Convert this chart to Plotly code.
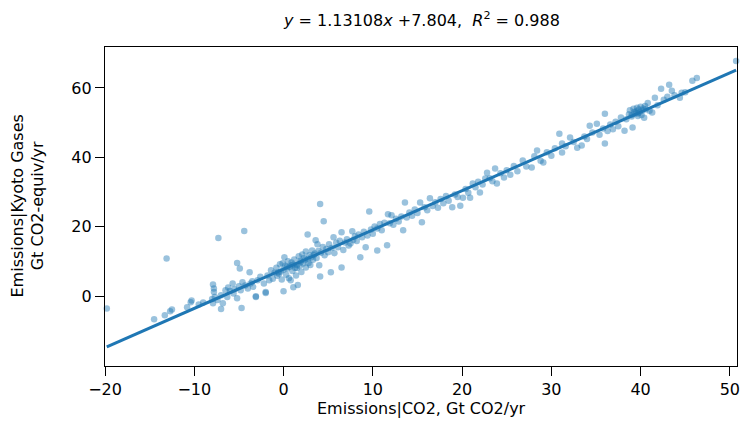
import plotly.graph_objects as go

# Emissions|CO2 (Gt CO2/yr) and Emissions|Kyoto Gases (Gt CO2-equiv/yr)
co2 = [
    -19.8, -14.5, -13.3, -12.7, -12.5, -13.1, -10.8, -10.4, -10.3, -9.5, -9.0,
    -7.9, -7.8, -7.8, -7.7, -7.4, -8.0, -7.9, -7.3, -7.0, -6.8, -7.0, -6.5, -6.2, -6.3,
    -5.7, -5.6, -5.2, -5.2, -4.9, -4.8, -4.6, -4.7, -4.4, -4.0, -3.8, -3.7, -3.4, -3.1,
    -3.1, -2.9, -2.6, -2.2, -2.0, -2.0, -1.8, -1.6, -6.0, -5.5, -5.0, -4.3, -3.5,
    -1.4, -1.2, -1.0, -0.8, -0.7, -0.5, -0.4, -0.3, -0.2, -0.1, 0.0, 0.0, 0.1, 0.2,
    0.3, 0.4, 0.5, 0.6, 0.7, 0.8, 0.9, 1.0, 1.1, 1.2, 1.3, 1.4, 1.5, 1.6, 1.7, 1.8,
    1.9, 2.0, 2.1, 2.2, 2.3, 2.5, 2.5, 2.7, 2.7, 2.9, 3.0, 3.2, 3.3, 3.5, 3.6, 3.7,
    3.8, 3.9, 4.0, 4.1, 4.1, 4.2, 4.4, 4.5, 4.6, 4.8, 5.0, 5.1, 5.3, 5.4, 5.6, 5.7,
    5.9, 6.1, 6.3, 6.5, 6.5, 6.7, 6.9, 7.1, 7.3, 7.5, 7.7, 7.8, 8.0, 8.2, 8.4, 8.6,
    8.8, 9.0, 9.2, 9.4, 9.6, 9.8, 10.0, 10.2, 10.5, 10.5, 10.8, 11.0, 11.3, 11.6,
    11.7, 11.9, 12.1, 12.3, 12.6, 12.9, 13.2, 13.4, 13.6, 13.8, 14.1, 14.4, 14.7,
    15.0, 15.3, 15.5, 15.8, 16.1, 16.4, 16.7, 17.0, 17.3, 17.6, 17.9, 18.2, 18.5,
    18.9, 19.2, 19.5, 19.8, 20.1, 20.4, 20.7, 20.9, 21.2, 21.5, 21.8, 22.0, 22.3,
    22.6, 22.8, 23.1, 23.4, 23.7, 23.9, 24.3, 24.7, 25.0, 25.4, 25.8, 26.2, 26.8,
    27.2, 27.8, 28.1, 28.4, 28.8, 29.1, 29.5, 30.0, 30.4, 30.9, 31.2, 31.2, 31.6,
    32.1, 32.5, 32.9, 33.4, 33.7, 34.0, 34.3, 34.6, 35.1, 35.4, 35.8, 36.0, 36.0,
    36.3, 36.6, 36.9, 37.2, 37.5, 37.8, 38.2, 38.4, 38.7, 38.8, 39.0, 39.1, 39.2,
    39.4, 39.5, 39.6, 39.7, 39.8, 39.9, 40.0, 40.1, 40.2, 40.4, 40.5, 40.8, 41.0,
    41.3, 41.6, 41.9, 42.3, 42.6, 43.0, 43.2, 43.5, 43.8, 44.4, 44.6, 45.0, 45.8,
    46.3, 50.7,
    0.4, 1.1, 1.9, 2.4, 3.1, 0.9, 2.8, -0.6, 1.5, 3.4, 39.3, 39.7, 40.3, 39.0, 40.6,
]
kyoto = [
    -3.5, -6.6, -5.5, -4.3, -3.8, 10.9, -3.2, -1.7, -1.2, -2.4, -1.8,
    3.4, 2.2, 1.2, -0.2, -1.1, -0.8, -2.0, 16.8, -3.7, -2.0, 0.3, 1.7, 2.5, -0.2,
    3.7, 0.8, -0.6, 9.6, 8.0, 1.7, 4.0, -3.4, 18.8, 2.2, 6.9, 3.7, 2.7, -0.2,
    0.0, 4.6, 5.6, 3.7, 1.2, 0.9, 6.0, 4.6, 1.5, 2.0, 2.9, 3.1, 4.3,
    7.5, 5.0, 6.8, 8.2, 5.9, 6.5, 9.2, 7.1, 4.8, 9.5, 1.4, 7.6, 11.2, 8.8,
    6.2, 7.9, 10.1, 5.2, 8.5, 4.6, 9.7, 7.3, 2.6, 10.6, 8.1, 6.0, 9.0, 3.2, 11.5, 8.7,
    10.2, 7.0, 12.0, 9.4, 11.0, 12.9, 8.3, 17.8, 10.7, 11.8, 9.0, 13.2, 10.5, 12.3, 16.1, 11.0,
    15.0, 13.0, 8.9, 26.6, 5.7, 12.5, 14.2, 21.6, 11.8, 13.6, 12.7, 15.0, 6.9, 13.9, 17.0, 12.4,
    15.4, 14.1, 16.0, 18.4, 8.3, 13.3, 15.5, 16.4, 14.6, 15.2, 18.7, 16.2, 17.3, 15.9, 17.8, 11.2,
    17.0, 18.6, 14.1, 17.5, 24.4, 19.2, 18.0, 20.1, 13.2, 19.5, 20.8, 19.0, 21.2, 14.7,
    23.6, 21.0, 23.3, 20.6, 22.3, 21.5, 23.0, 19.0, 27.0, 22.7, 24.1, 23.2, 25.0,
    24.0, 27.0, 21.3, 25.6, 24.8, 28.2, 26.0, 27.1, 25.5, 28.0, 26.8, 28.9, 27.5,
    25.6, 29.3, 28.6, 26.1, 28.4, 30.9, 29.8, 28.4, 32.5, 31.4, 33.0, 29.9, 32.2,
    33.9, 35.6, 34.0, 33.1, 36.8, 32.5, 35.4, 34.2, 36.3, 35.0, 37.5, 36.0, 39.1,
    37.4, 37.1, 40.3, 42.0, 39.0, 38.5, 41.5, 40.5, 42.6, 46.8, 44.0, 41.4, 43.2,
    45.7, 44.4, 42.8, 43.4, 46.0, 45.3, 49.1, 47.2, 49.7, 46.5, 48.3, 44.0, 52.6,
    47.6, 49.5, 48.1, 50.3, 49.0, 51.5, 47.7, 51.0, 52.4, 53.6, 51.8, 48.6, 54.0,
    52.6, 53.3, 54.3, 51.9, 53.8, 52.9, 54.6, 52.2, 53.5, 51.4, 54.8, 55.7, 53.4,
    52.9, 57.2, 55.0, 59.8, 56.6, 57.5, 60.9, 59.2, 57.9, 57.2, 58.6, 58.8, 62.1,
    62.9, 67.8,
    8.4, 9.1, 9.8, 10.4, 11.2, 8.9, 9.6, 6.9, 8.1, 11.9, 53.1, 52.7, 54.1, 52.2, 53.9,
]

slope = 1.13108
intercept = 7.804
r_squared = 0.988
x_ticks = [-20, -10, 0, 10, 20, 30, 40, 50]
y_ticks = [0, 20, 40, 60]

blue = "#1f77b4"
font = "DejaVu Sans"

line_x = [min(co2), max(co2)]
line_y = [slope * v + intercept for v in line_x]

fig = go.Figure()
fig.add_trace(go.Scatter(
    x=co2, y=kyoto, mode="markers",
    marker=dict(color=blue, size=6.5, opacity=0.45, line=dict(width=0)),
    showlegend=False, hoverinfo="skip", cliponaxis=False,
))
fig.add_trace(go.Scatter(
    x=line_x, y=line_y, mode="lines",
    line=dict(color=blue, width=3),
    showlegend=False, hoverinfo="skip",
))

title = (f"<i>y</i> = {slope}<i>x</i> +{intercept},\u00a0\u00a0"
         f"<i>R</i><sup>2</sup> = {r_squared}")

axis_style = dict(ticks="outside", ticklen=9, tickcolor="black", tickwidth=1.2,
                  showgrid=False, zeroline=False, showline=True, linecolor="black",
                  linewidth=1.2, mirror=True, automargin=False,
                  ticklabeloverflow="allow", tickfont=dict(size=16))

fig.update_layout(
    width=740, height=427,
    margin=dict(l=105, r=3, t=47, b=61, autoexpand=False),
    paper_bgcolor="white", plot_bgcolor="white",
    font=dict(family=font, size=16, color="black"),
    xaxis=dict(range=[-20, 50.8], tickvals=x_ticks, **axis_style),
    yaxis=dict(range=[-20.1, 71.8], tickvals=y_ticks, **axis_style),
    annotations=[
        dict(text=title, xref="paper", yref="paper", x=0.5, y=1,
             xanchor="center", yanchor="middle", yshift=28,
             showarrow=False, font=dict(size=16)),
        dict(text="Emissions|CO2, Gt CO2/yr", xref="paper", yref="paper",
             x=0.5, y=0, xanchor="center", yanchor="top", yshift=-31,
             showarrow=False, font=dict(size=16)),
        dict(text="Emissions|Kyoto Gases<br>Gt CO2-equiv/yr", xref="paper", yref="paper",
             x=0, y=0.5, xanchor="right", yanchor="middle", xshift=-56,
             textangle=-90, showarrow=False, font=dict(size=16)),
    ],
)

# remove the page's default body margin so the figure fills the window exactly
fig.write_html(
    "out.html",
    config={"displayModeBar": False},
    post_script="document.body.style.margin='0';document.body.style.overflow='hidden';",
)
